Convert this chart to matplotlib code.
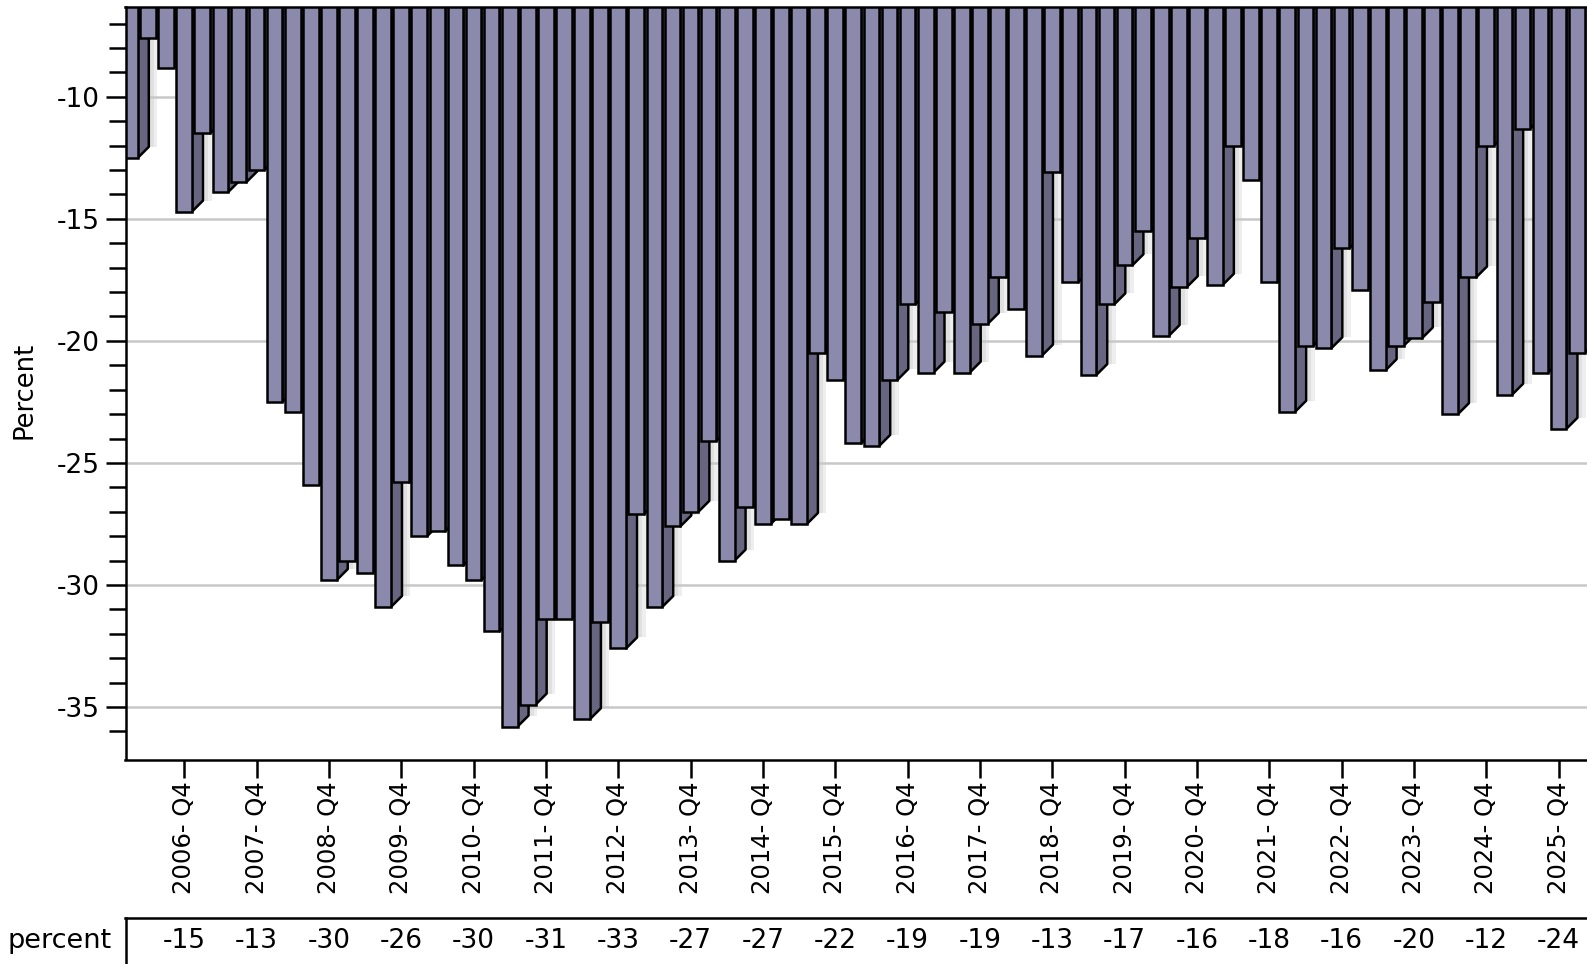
import matplotlib
matplotlib.use("Agg")
import matplotlib.pyplot as plt
import matplotlib.transforms as mtransforms
from matplotlib.collections import PolyCollection
import numpy as np

plt.rcParams["axes.unicode_minus"] = False

# quarterly values, 2006-Q1 .. 2026-Q1
quarters = [f"{y}-Q{q}" for y in range(2006, 2027) for q in range(1, 5)][:81]
values = [
    -12.5, -7.6, -8.8, -14.7,
    -11.5, -13.9, -13.5, -13.0,
    -22.5, -22.9, -25.9, -29.8,
    -29.0, -29.5, -30.9, -25.8,
    -28.0, -27.8, -29.2, -29.8,
    -31.9, -35.8, -34.9, -31.4,
    -31.4, -35.5, -31.5, -32.6,
    -27.1, -30.9, -27.6, -27.0,
    -24.1, -29.0, -26.8, -27.5,
    -27.3, -27.5, -20.5, -21.6,
    -24.2, -24.3, -21.6, -18.5,
    -21.3, -18.8, -21.3, -19.3,
    -17.4, -18.7, -20.6, -13.1,
    -17.6, -21.4, -18.5, -16.9,
    -15.5, -19.8, -17.8, -15.8,
    -17.7, -12.0, -13.4, -17.6,
    -22.9, -20.2, -20.3, -16.2,
    -17.9, -21.2, -20.2, -19.9,
    -18.4, -23.0, -17.4, -12.0,
    -22.2, -11.3, -21.3, -23.6,
    -20.5,
]
q4_labels = [f"{y}- Q4" for y in range(2006, 2026)]
table_vals = [-15, -13, -30, -26, -30, -31, -33, -27, -27, -22,
              -19, -19, -13, -17, -16, -18, -16, -20, -12, -24]

front_col = "#8c8aac"
side_col = "#67657f"
lw = 1.8

W, H = 1587, 964
fig = plt.figure(figsize=(W / 100, H / 100), dpi=100)
ax = fig.add_axes([125.5 / W, 1 - 759.5 / H, 1 - 125.5 / W, (759.5 - 7) / H])

x = np.arange(len(values))
vals = np.array(values)
q4_idx = [i for i, q in enumerate(quarters) if q.endswith("Q4")]

ax.set_xlim(-0.246, 80.57)
ax.set_ylim(-37.15, -6.32)

# pixel sizes in data units
p0 = ax.transData.transform((0, 0))
p1 = ax.transData.transform((1, -1))
px_x = p1[0] - p0[0]
px_y = p0[1] - p1[1]

w = 15.7 / px_x
depth_x = 11 / px_x
depth_y = 11 / px_y
xr = x + w / 2

# soft shadow strips right of the side faces
ax.bar(xr + 12.5 / px_x, vals + depth_y, width=3.5 / px_x, align="edge",
       color="#e0e0e0", linewidth=0, zorder=0.3)
ax.bar(xr + 16 / px_x, vals + depth_y, width=3.5 / px_x, align="edge",
       color="#eeeeee", linewidth=0, zorder=0.3)

# side faces
verts = [[(r, 0), (r, v), (r + depth_x, v + depth_y), (r + depth_x, 0)]
         for r, v in zip(xr, vals)]
ax.add_collection(PolyCollection(verts, facecolors=side_col, edgecolors="black",
                                 linewidths=lw, zorder=2))

# front faces
ax.bar(x, vals, width=w, color=front_col, edgecolor="black", linewidth=lw, zorder=3)

ax.set_axisbelow(True)
ax.yaxis.grid(True, color="#c8c8c8", linewidth=1.8)

ax.set_yticks(np.arange(-35, -9, 5))
ax.set_yticks(np.arange(-36, -6), minor=True)
ax.tick_params(axis="y", which="major", length=14.4, width=lw, labelsize=19, pad=4.5)
ax.tick_params(axis="y", which="minor", length=12.2, width=lw)

ax.set_xticks(q4_idx)
ax.set_xticklabels(q4_labels, rotation=90)
ax.tick_params(axis="x", length=13, width=lw, labelsize=17.5, pad=3)

for s in ["top", "left", "bottom"]:
    ax.spines[s].set_linewidth(lw)
    ax.spines[s].set_zorder(10)
ax.spines["right"].set_visible(False)

fig.text(25 / W, 1 - 390 / H, "Percent", rotation=90, ha="center", va="center",
         fontsize=18.5)

# data table under the chart
tax = fig.add_axes([125.5 / W, -0.05, 1 - 125.5 / W, 0.05 + (964 - 918) / H])
tax.set_xlim(ax.get_xlim())
tax.set_xticks([])
tax.set_yticks([])
tax.spines["right"].set_visible(False)
tax.spines["bottom"].set_visible(False)
tax.spines["top"].set_linewidth(lw)
tax.spines["left"].set_linewidth(lw)
tr = mtransforms.blended_transform_factory(tax.transData, fig.transFigure)
for i, tv in zip(q4_idx, table_vals):
    tax.text(i, 1 - 941 / H, str(tv), transform=tr, ha="center", va="center",
             fontsize=19, clip_on=False)
fig.text(8 / W, 1 - 941 / H, "percent", ha="left", va="center", fontsize=19.5)

fig.savefig("out.png", dpi=100)
